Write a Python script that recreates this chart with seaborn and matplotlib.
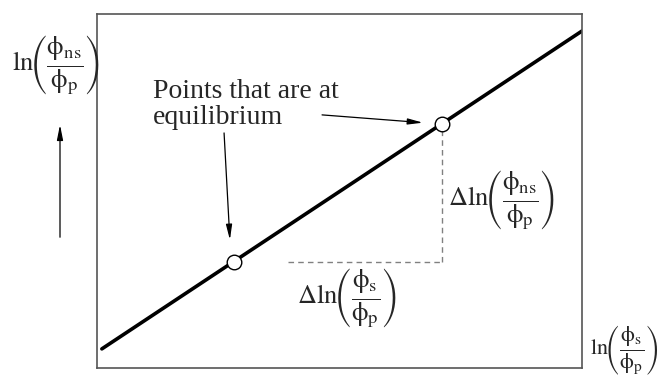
import matplotlib
matplotlib.use("Agg")
import matplotlib.pyplot as plt
import seaborn as sns
import pandas as pd

# Equilibrium line ln(phi_ns/phi_p) vs ln(phi_s/phi_p), in arbitrary units
line_x = [0.1, 10.0]
line_y = [0.54, 9.52]
# Two equilibrium points lying on the line
point_x = [2.83, 7.11]
point_y = [3.00, 6.89]

label_points = ["Points that are at", "equilibrium"]
label_dy = r"$\Delta\ln\!\!\left(\dfrac{\mathrm{\phi}_{\mathrm{ns}}}{\mathrm{\phi}_{\mathrm{p}}}\right)$"
label_dx = r"$\Delta\ln\!\!\left(\dfrac{\mathrm{\phi}_{\mathrm{s}}}{\mathrm{\phi}_{\mathrm{p}}}\right)$"
label_y = r"$\ln\!\!\left(\dfrac{\mathrm{\phi}_{\mathrm{ns}}}{\mathrm{\phi}_{\mathrm{p}}}\right)$"
label_x = r"$\ln\!\!\left(\dfrac{\mathrm{\phi}_{\mathrm{s}}}{\mathrm{\phi}_{\mathrm{p}}}\right)$"

sns.set_style("white")
plt.rcParams["font.family"] = ["Liberation Serif", "DejaVu Serif"]
plt.rcParams["mathtext.fontset"] = "stix"

W, H = 659, 386
fig = plt.figure(figsize=(W / 100, H / 100), dpi=100)
ax = fig.add_axes([97 / W, 1 - 368 / H, (582 - 97) / W, (368 - 14) / H])

line_df = pd.DataFrame({"x": line_x, "y": line_y})
pts_df = pd.DataFrame({"x": point_x, "y": point_y})

# Dashed guides forming the triangle between the two points
ax.plot([point_x[0] + 1.1, point_x[1]], [point_y[0], point_y[0]],
        ls=(0, (4, 3)), color="#808080", lw=1.0, zorder=1)
ax.plot([point_x[1], point_x[1]], [point_y[0], point_y[1]],
        ls=(0, (4, 3)), color="#808080", lw=1.0, zorder=1)

sns.lineplot(data=line_df, x="x", y="y", color="black", linewidth=2.6, ax=ax, zorder=2)
sns.scatterplot(data=pts_df, x="x", y="y", s=110, facecolor="white",
                edgecolor="black", linewidth=1.0, ax=ax, zorder=3)

ax.set_xlim(0, 10)
ax.set_ylim(0, 10)
ax.set_xticks([])
ax.set_yticks([])
ax.set_xlabel("")
ax.set_ylabel("")
for sp in ax.spines.values():
    sp.set_color("#555555")
    sp.set_linewidth(1.2)
    sp.set_visible(True)

# Annotation text and arrows to the equilibrium points
ax.text(1.15, 7.80, label_points[0], fontsize=20, ha="left", va="center")
ax.text(1.15, 7.09, label_points[1], fontsize=20, ha="left", va="center")
arrow = dict(arrowstyle="-|>,head_length=0.9,head_width=0.18", color="black",
             lw=0.9, shrinkA=0, shrinkB=0)
ax.annotate("", xy=(6.72, 6.93), xytext=(4.64, 7.15), arrowprops=arrow)
ax.annotate("", xy=(2.74, 3.62), xytext=(2.62, 6.64), arrowprops=arrow)

ax.text(7.24, 4.75, label_dy, fontsize=19, ha="left", va="center")
ax.text(4.12, 1.98, label_dx, fontsize=19, ha="left", va="center")

# Axis captions placed outside the frame
fig.text(12 / W, 1 - 65 / H, label_y, fontsize=19, ha="left", va="center")
fig.text(590 / W, 1 - 350 / H, label_x, fontsize=16, ha="left", va="center")
fig.patches.append(matplotlib.patches.FancyArrowPatch(
    (60 / W, 1 - 240 / H), (60 / W, 1 - 122 / H), transform=fig.transFigure,
    arrowstyle="-|>,head_length=0.9,head_width=0.18", color="black", lw=0.9,
    mutation_scale=10))

fig.savefig("out.png", dpi=100)
